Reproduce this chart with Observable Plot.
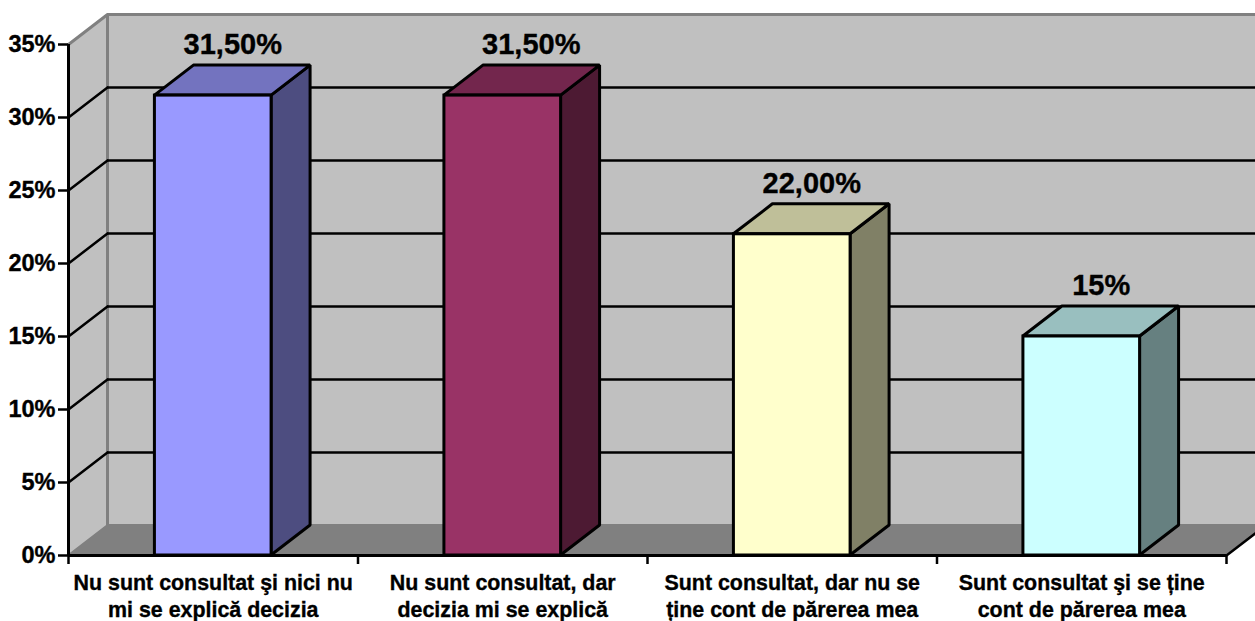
<!DOCTYPE html>
<html><head><meta charset="utf-8">
<script src="https://cdn.jsdelivr.net/npm/d3@7"></script>
<script src="https://cdn.jsdelivr.net/npm/@observablehq/plot@0.6"></script>
<style>html,body{margin:0;padding:0;background:#fff;overflow:hidden}svg{display:block;overflow:hidden}svg text{stroke:#000;stroke-width:.35px}</style>
</head><body>
<script>
const categories = ["Nu sunt consultat şi nici nu\nmi se explică decizia","Nu sunt consultat, dar\ndecizia mi se explică","Sunt consultat, dar nu se\nține cont de părerea mea","Sunt consultat şi se ține\ncont de părerea mea"];
const values = [31.5, 31.5, 22, 15];
const valueLabels = ["31,50%","31,50%","22,00%","15%"];
const frontColors = ["#9999ff","#993366","#ffffcc","#ccffff"];
const topColors = ["#7373bf","#73264d","#bfbf99","#99bfbf"];
const sideColors = ["#4d4d80","#4d1a33","#808066","#668080"];
const yTicks = [0,5,10,15,20,25,30,35];
const xTicks = [0,1,2,3,4];

const depthX = 39/289.5, depthY = 30/14.6, barW = 0.403;
const FONT = "'Liberation Sans', Arial, sans-serif";
const seg = (a,b)=>[a,b];

const marks = [
  // walls and floor
  Plot.rect([0],{x1:depthX,x2:4+depthX,y1:depthY,y2:35+depthY,fill:"#c0c0c0"}),
  Plot.areaY(seg({x:0,y1:0,y2:35},{x:depthX,y1:depthY,y2:35+depthY}),{x:"x",y1:"y1",y2:"y2",fill:"#c0c0c0"}),
  Plot.areaX(seg({y:0,x1:0,x2:4},{y:depthY,x1:depthX,x2:4+depthX}),{y:"y",x1:"x1",x2:"x2",fill:"#808080"}),
  // gray wall edges
  Plot.ruleY([35+depthY,depthY],{x1:depthX,x2:4+depthX,stroke:"#808080",strokeWidth:3}),
  Plot.ruleX([depthX],{y1:depthY,y2:35+depthY,stroke:"#808080",strokeWidth:3}),
  Plot.line(seg([0,35],[depthX,35+depthY]),{stroke:"#808080",strokeWidth:3}),
  Plot.line(seg([0,0],[depthX,depthY]),{stroke:"#808080",strokeWidth:2.5}),
  // grid lines
  Plot.ruleY(yTicks.filter(t=>t>0&&t<35),{y:t=>t+depthY,x1:depthX,x2:4+depthX,stroke:"#000",strokeWidth:2.5}),
  ...yTicks.filter(t=>t>0&&t<35).map(t=>Plot.line(seg([0,t],[depthX,t+depthY]),{stroke:"#000",strokeWidth:2.5})),
  Plot.line(seg([4,0],[4+depthX,depthY]),{stroke:"#000",strokeWidth:2.5}),
  // bars
  ...values.flatMap((v,i)=>{
    const l=i+.5-barW/2, r=i+.5+barW/2;
    const common={stroke:"#000",strokeWidth:3,strokeLinejoin:"miter"};
    return [
      Plot.areaY(seg({x:r,y1:0,y2:v},{x:r+depthX,y1:depthY,y2:v+depthY}),{x:"x",y1:"y1",y2:"y2",fill:sideColors[i],...common}),
      Plot.areaX(seg({y:v,x1:l,x2:r},{y:v+depthY,x1:l+depthX,x2:r+depthX}),{y:"y",x1:"x1",x2:"x2",fill:topColors[i],...common}),
      Plot.rect([v],{x1:l,x2:r,y1:0,y2:v,fill:frontColors[i],...common}),
      Plot.text([v],{x:i+.5+depthX/2,y:v+depthY,text:()=>valueLabels[i],dx:i===1?9:0,dy:-21,fontSize:29,fontWeight:"bold",fill:"#000",fontFamily:FONT})
    ];
  }),
  // axes
  Plot.axisY({ticks:yTicks,tickFormat:d=>d+"%",tickSize:10,tickPadding:3,fontSize:23.5,fontWeight:"bold",fontFamily:FONT,stroke:"#000",strokeWidth:2.5,fill:"#000",label:null}),
  Plot.ruleX([0],{y1:0,y2:35,stroke:"#000",strokeWidth:3}),
  Plot.ruleY([0],{x1:0,x2:4,stroke:"#000",strokeWidth:3}),
  Plot.axisX({ticks:xTicks,tickFormat:()=>"",tickSize:9,stroke:"#000",strokeWidth:2.5,label:null}),
  Plot.text(categories,{x:(d,i)=>i+.5,y:0,text:d=>d,dy:39.5,lineHeight:1.26,fontSize:21.4,fontWeight:"bold",fill:"#000",fontFamily:FONT})
];

const chart = Plot.plot({
  width:1255,height:621,marginLeft:68,marginRight:29,marginTop:44,marginBottom:66,
  x:{type:"linear",domain:[0,4]},y:{type:"linear",domain:[0,35]},
  style:{background:"#fff",overflow:"hidden"},
  marks
});
document.body.appendChild(chart);
</script>
</body></html>
